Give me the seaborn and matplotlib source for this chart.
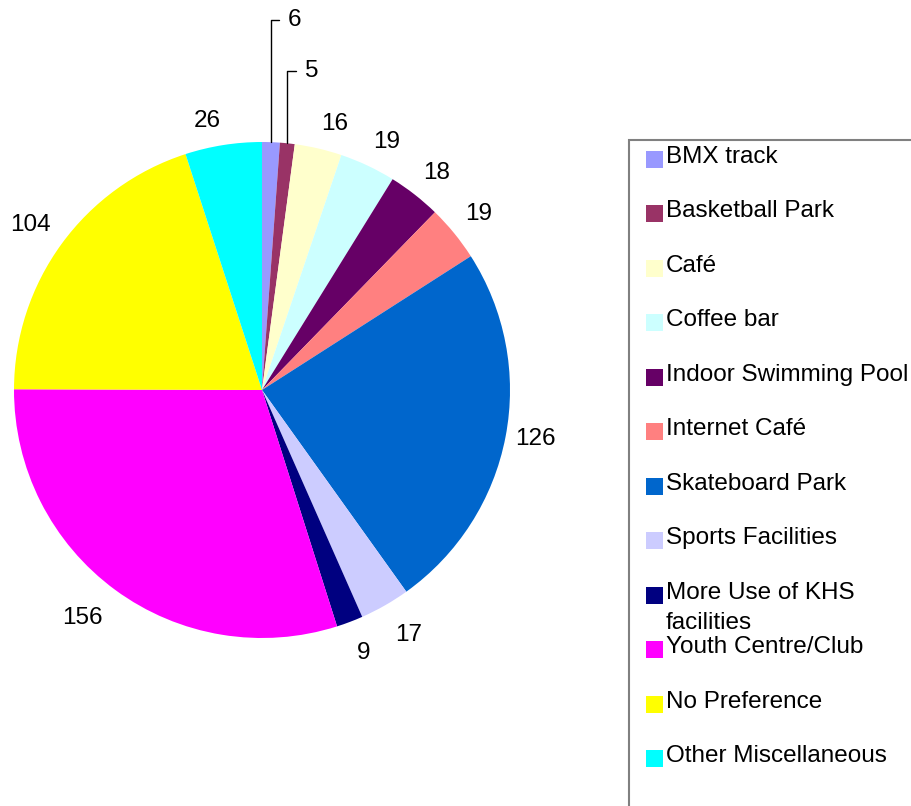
import numpy as np
import matplotlib.pyplot as plt
import seaborn as sns
from matplotlib.patches import Rectangle

# data
categories = ['BMX track', 'Basketball Park', 'Café', 'Coffee bar',
              'Indoor Swimming Pool', 'Internet Café', 'Skateboard Park',
              'Sports Facilities', 'More Use of KHS\nfacilities',
              'Youth Centre/Club', 'No Preference', 'Other Miscellaneous']
counts = [6, 5, 16, 19, 18, 19, 126, 17, 9, 156, 104, 26]
colors = ['#9999FF', '#993366', '#FFFFCC', '#CCFFFF', '#660066', '#FF8080',
          '#0066CC', '#CCCCFF', '#000080', '#FF00FF', '#FFFF00', '#00FFFF']

sns.set_style("white")
plt.rcParams['font.family'] = ['Liberation Sans', 'DejaVu Sans']
plt.rcParams['text.color'] = 'black'
FS = 17.5

W, H = 911, 806
fig = plt.figure(figsize=(W / 100, H / 100), dpi=100)

# pie axes (pixel layout of the original)
cx, cy, r = 262, 390, 248
ax = fig.add_axes([(cx - r) / W, (H - cy - r) / H, 2 * r / W, 2 * r / H])

# the two thin slices get leader lines instead of plain labels
callout = {0: (0.105, 1.49), 1: (0.173, 1.286)}
labels = ['' if i in callout else str(v) for i, v in enumerate(counts)]

wedges, texts = ax.pie(counts, colors=colors, startangle=90, counterclock=False,
                       labels=labels, labeldistance=1.05,
                       wedgeprops=dict(linewidth=0),
                       textprops=dict(fontsize=FS, color='black'))
ax.set_xlim(-1, 1)
ax.set_ylim(-1, 1)
ax.set_aspect('equal')
ax.axis('off')

# excel-like placement: label box touches the point outside the slice
for w, t in zip(wedges, texts):
    ang = np.deg2rad((w.theta1 + w.theta2) / 2)
    x, y = np.cos(ang), np.sin(ang)
    t.set_ha('left' if x > 0 else 'right')
    if abs(y) < 0.5:
        t.set_va('center')
        d = 1.04
    elif y > 0:
        t.set_va('bottom')
        d = 1.055
    else:
        t.set_va('top')
        d = 1.085
    t.set_position((d * x, d * y))

for i, pos in callout.items():
    w = wedges[i]
    ang = np.deg2rad((w.theta1 + w.theta2) / 2)
    ax.annotate(str(counts[i]), xy=(np.cos(ang), np.sin(ang)), xytext=pos,
                ha='left', va='center', fontsize=FS, annotation_clip=False,
                arrowprops=dict(arrowstyle='-', color='black', lw=1,
                                shrinkA=4, shrinkB=0,
                                connectionstyle='angle,angleA=0,angleB=90,rad=0'))

# legend box, cut off by the right and bottom edges like the original
fig.add_artist(Rectangle((629 / W, -0.1), 1, 1 - 140 / H + 0.1,
                         transform=fig.transFigure, facecolor='none',
                         edgecolor='#808080', lw=1.5))
for i, (name, col) in enumerate(zip(categories, colors)):
    base = 163 + 54.45 * i
    fig.add_artist(Rectangle((646 / W, 1 - (base + 5) / H), 17 / W, 17 / H,
                             transform=fig.transFigure, facecolor=col,
                             edgecolor='none'))
    # wrapped entries run downwards into the gap below
    for k, line in enumerate(name.split('\n')):
        fig.text(666 / W, 1 - (base + 30 * k) / H, line, va='baseline',
                 ha='left', fontsize=FS, color='black')

fig.savefig('out.png', dpi=100)
